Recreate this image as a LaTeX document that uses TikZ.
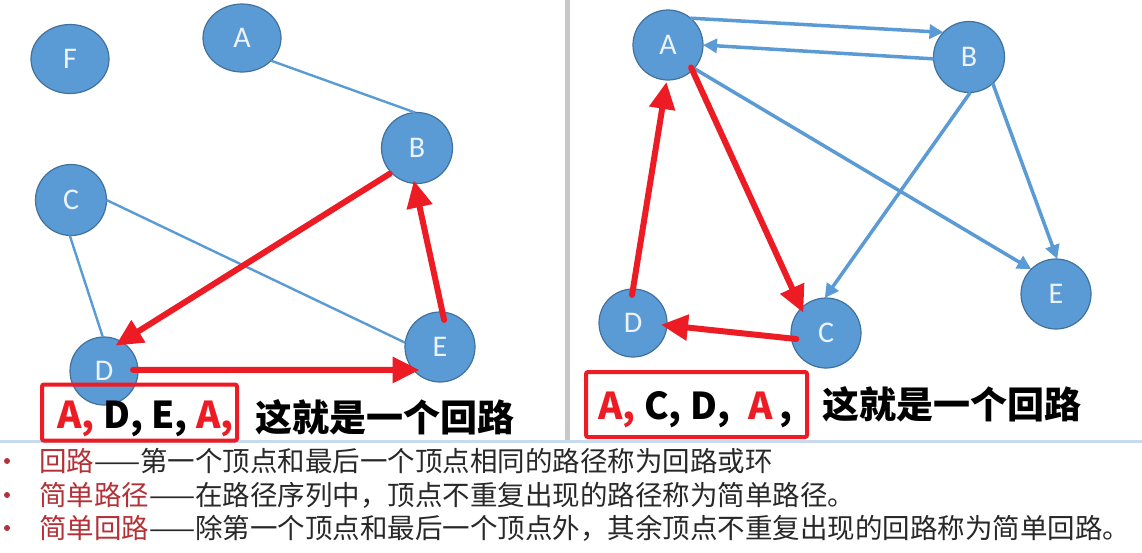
\documentclass[tikz,border=0pt]{standalone}
\usepackage{fontspec}
\setmainfont{Carlito}
\newfontfamily\cjk{Noto Sans CJK SC}
\usetikzlibrary{arrows.meta,shapes.geometric}
\definecolor{nodefill}{RGB}{91,155,213}
\definecolor{nodeedge}{RGB}{65,113,156}
\definecolor{edgeblue}{RGB}{91,155,213}
\definecolor{pathred}{RGB}{237,28,36}
\definecolor{termred}{RGB}{180,50,55}
\definecolor{bodygray}{RGB}{40,40,40}
\definecolor{sepgray}{RGB}{200,200,200}
\definecolor{rulebl}{RGB}{200,218,238}
\begin{document}
\begin{tikzpicture}[x=1pt,y=-1pt,
  vertex/.style={circle, draw=nodeedge, line width=1.2pt, fill=nodefill, minimum size=70pt, inner sep=0pt, outer sep=0pt, text={rgb,255:red,236;green,243;blue,252}, font=\fontsize{30}{30}\selectfont},
  ovalvertex/.style={vertex, ellipse, minimum width=78pt, minimum height=69pt},
  undirected/.style={draw=edgeblue, line width=2.4pt},
  directed/.style={draw=edgeblue, line width=3.5pt, -{Triangle[length=14pt,width=14pt]}},
  redpath/.style={draw=pathred, line width=6pt, line cap=round, -{Triangle[length=27pt,width=25pt]}},
  redbox/.style={draw=pathred, line width=4pt, rounded corners=2pt, minimum width=195pt, minimum height=57pt, inner sep=0pt},
  bigtext/.style={font=\cjk\bfseries\fontsize{37}{40}\selectfont, inner sep=0pt},
  bodytext/.style={font=\cjk\fontsize{27.5}{30}\selectfont, text=bodygray, anchor=west, inner sep=0pt},
  bulletdot/.style={circle, fill=termred, minimum size=6pt, inner sep=0pt}
]
\useasboundingbox (0,0) rectangle (1142,552);
\fill[white] (0,0) rectangle (1142,552);

% separators
\fill[sepgray] (565,0) rectangle (570,440);
\draw[rulebl, line width=3pt] (0,441) -- (1142,441);

% ---------- left graph ----------
\node[ovalvertex] (lF) at (70,59) {F};
\node[ovalvertex, minimum height=68pt] (lA) at (242,38) {A};
\node[vertex, minimum size=71pt] (lB) at (417,148) {B};
\node[vertex, minimum size=71pt] (lC) at (71,200) {C};
\node[vertex, minimum size=68pt] (lD) at (104,371) {D};
\node[vertex] (lE) at (440,347) {E};

\draw[undirected] (lA.-38) -- (lB.93);
\draw[undirected] (lC.-92) -- (lD.92);
\draw[undirected] (lC.0) -- (lE.173);

\draw[redpath, shorten <=2pt, shorten >=-7pt] (lB.-136) -- (lD.59);
\draw[redpath, shorten <=-8pt, shorten >=-3pt] (lE.86) -- (lB.-94);
\draw[redpath, shorten <=-5pt, shorten >=-6pt] (lD.2) -- (lE.-139);

\node[redbox, minimum width=195pt, minimum height=56pt] (boxL) at (139.5,412.5) {};
\node[bigtext, anchor=base west] (seqL) at (57,428) {\textcolor{pathred}{A,} D, E, \textcolor{pathred}{A,}};
\node[bigtext, anchor=base west] (noteL) at (255,431) {这就是一个回路};

% ---------- right graph ----------
\node[vertex] (rA) at (668,45) {A};
\node[vertex, minimum size=71pt] (rB) at (969,57) {B};
\node[vertex] (rC) at (826,333) {C};
\node[vertex, minimum size=68pt] (rD) at (633,323) {D};
\node[vertex] (rE) at (1056,294) {E};

\draw[directed] (rA.50) -- (rB.136);
\draw[directed] (rB.183) -- (rA.0);
\draw[directed] (rA.-42) -- (rE.135);
\draw[directed] (rB.-88) -- (rC.92);
\draw[directed] (rB.-48) -- (rE.88);

\draw[redpath, shorten <=-6pt, shorten >=2pt] (rD.90) -- (rA.-92);
\draw[redpath, shorten <=-3pt, shorten >=-5pt] (rA.-46) -- (rC.135);
\draw[redpath, shorten <=-5pt, shorten >=-6pt] (rC.189) -- (rD.-4);

\node[redbox, minimum width=221pt, minimum height=65pt] (boxR) at (696.5,404.5) {};
\node[bigtext, anchor=base west] (seqR) at (598,419) {\textcolor{pathred}{A,} C, D,\enspace\textcolor{pathred}{A}\,,};
\node[bigtext, anchor=base west] (noteR) at (822,418) {这就是一个回路};

% ---------- definitions ----------
\node[bulletdot] (b1) at (7,461) {};
\node[bulletdot] (b2) at (7,495) {};
\node[bulletdot] (b3) at (7,528) {};
\node[bodytext] (l1) at (39,461) {\textcolor{termred}{回路}——第一个顶点和最后一个顶点相同的路径称为回路或环};
\node[bodytext] (l2) at (39,495) {\textcolor{termred}{简单路径}——在路径序列中，顶点不重复出现的路径称为简单路径。};
\node[bodytext] (l3) at (39,528) {\textcolor{termred}{简单回路}——除第一个顶点和最后一个顶点外，其余顶点不重复出现的回路称为简单回路。};
\end{tikzpicture}
\end{document}
